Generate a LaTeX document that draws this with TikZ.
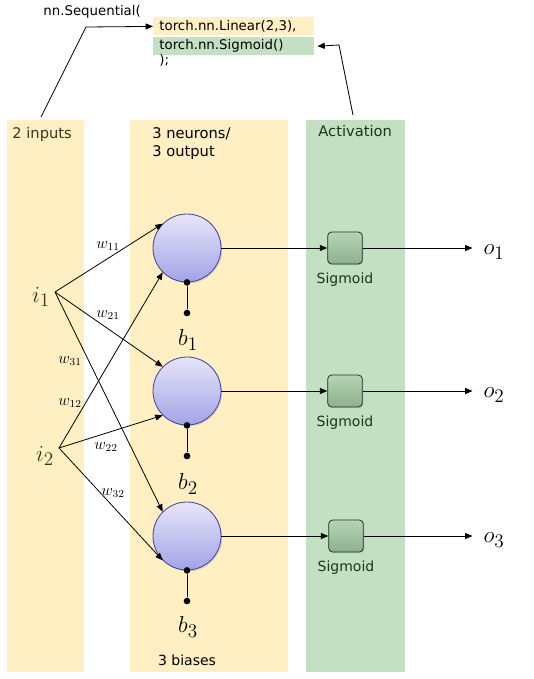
\documentclass[tikz,border=0pt]{standalone}
\usepackage{fontspec}
\setmainfont{DejaVu Sans}
\usepackage{tikz}
\usetikzlibrary{arrows.meta,positioning,shadows}
\definecolor{bandyellow}{HTML}{FFEFC2}
\definecolor{bandgreen}{HTML}{C3E0C3}
\definecolor{neuronedge}{HTML}{3D3DA6}
\definecolor{neurontop}{HTML}{E6E6F9}
\definecolor{neuronbot}{HTML}{A3A3E6}
\definecolor{sigedge}{HTML}{1C381C}
\definecolor{sigtop}{HTML}{B6D4B6}
\definecolor{sigbot}{HTML}{8DB08D}
\definecolor{darktext}{HTML}{3A3320}
\definecolor{greentext}{HTML}{1E331E}

\begin{document}
\begin{tikzpicture}[x=0.75pt, y=-0.75pt, line width=0.6pt,
	>={Triangle[length=5.5pt,width=4.5pt]},
	neuron/.style={circle, draw=neuronedge, top color=neurontop, bottom color=neuronbot,
		minimum size=51pt, inner sep=0pt,
		drop shadow={shadow xshift=1pt, shadow yshift=-1pt, opacity=.25}},
	sigbox/.style={rectangle, rounded corners=3pt, draw=sigedge, top color=sigtop, bottom color=sigbot,
		minimum width=26pt, minimum height=24pt, inner sep=0pt,
		drop shadow={shadow xshift=.8pt, shadow yshift=-.8pt, opacity=.25}},
	biasdot/.style={circle, fill=black, minimum size=5pt, inner sep=0pt},
	mathlbl/.style={font=\fontsize{19}{21}\selectfont, inner sep=1pt},
	wlbl/.style={font=\fontsize{12}{13}\selectfont, inner sep=0pt},
	header/.style={font=\fontsize{11}{13.5}\selectfont, anchor=base west, inner sep=0pt},
	siglbl/.style={font=\fontsize{10.5}{12}\selectfont, text=greentext, inner sep=0pt},
	code/.style={font=\fontsize{10}{12}\selectfont, inner sep=0pt},
	codeband/.style={code, rectangle, anchor=north west, minimum width=120.75pt, minimum height=13.5pt,
		text width=111.75pt, align=left, inner xsep=4.5pt, inner ysep=0pt}]
	\useasboundingbox (0,0) rectangle (533,679);
	\fill[bandyellow] (7,120) rectangle (84,672);
	\fill[bandyellow] (130,120) rectangle (288,672);
	\fill[bandgreen] (306,120) rectangle (405,672);

	\node[code, anchor=base west] (seq) at (43,15) {nn.Sequential(};
	\node[codeband, fill=bandyellow] (lin) at (153,17) {torch.nn.Linear(2,3),};
	\node[codeband, fill=bandgreen, below=0.75pt of lin] (sig) {torch.nn.Sigmoid()};
	\node[code, anchor=base west] (close) at (159,64) {);};

	\node[header, text=darktext] (hin) at (12,138) {2 inputs};
	\node[header] (hneu) at (152,138) {3 neurons/};
	\node[header] (hout) at (152,156) {3 output};
	\node[header, text=greentext] (hact) at (318,136) {Activation};
	\node[font=\fontsize{10.5}{12}\selectfont, inner sep=0pt] (hbias) at (187,660) {3 biases};

	\coordinate (linfoot) at (41,117);
	\coordinate (linknee) at (86,27);
	\coordinate (sigfoot) at (353,115);
	\coordinate (sigknee) at (339,45);
	\draw[->] (linfoot) -- (linknee) -- (lin.west);
	\draw[->] (sigfoot) -- (sigknee) -- ([xshift=2pt]sig.east);

	\node[neuron] (n1) at (187,248) {};
	\node[neuron] (n2) at (187,391) {};
	\node[neuron] (n3) at (187,536) {};

	\node[sigbox] (s1) at (345,248) {};
	\node[sigbox] (s2) at (345,391) {};
	\node[sigbox] (s3) at (346,536) {};
	\node[siglbl, below=6pt of s1] (sl1) {Sigmoid};
	\node[siglbl, below=6pt of s2] (sl2) {Sigmoid};
	\node[siglbl, below=6pt of s3] (sl3) {Sigmoid};

	\node[mathlbl] (o1) at (494,252) {$o_1$};
	\node[mathlbl] (o2) at (494,395) {$o_2$};
	\node[mathlbl] (o3) at (494,540) {$o_3$};

	\draw[->] (n1) -- (s1);
	\draw[->] (n2) -- (s2);
	\draw[->] (n3) -- (s3);
	\draw[->, shorten >=7pt] (s1) -- (s1 -| o1.west);
	\draw[->, shorten >=7pt] (s2) -- (s2 -| o2.west);
	\draw[->, shorten >=7pt] (s3) -- (s3 -| o3.west);

	\node[biasdot] (bt1) at (n1.south) {};
	\node[biasdot] (bt2) at (n2.south) {};
	\node[biasdot] (bt3) at (n3.south) {};
	\node[biasdot] (bd1) at (187,313) {};
	\node[biasdot] (bd2) at (187,456) {};
	\node[biasdot] (bd3) at (187,601) {};
	\draw (bt1) -- (bd1);
	\draw (bt2) -- (bd2);
	\draw (bt3) -- (bd3);
	\node[mathlbl] (b1) at (188,340) {$b_1$};
	\node[mathlbl] (b2) at (188,484) {$b_2$};
	\node[mathlbl] (b3) at (188,627) {$b_3$};

	\coordinate (i1) at (55,292);
	\coordinate (i2) at (59,448);
	\node[mathlbl, text=darktext] (i1lab) at (41,297) {$i_1$};
	\node[mathlbl, text=darktext] (i2lab) at (45,456) {$i_2$};
	\draw[->] (i1) -- (n1.135);
	\draw[->] (i1) -- (n2.135);
	\draw[->] (i1) -- (n3.135);
	\draw[->] (i2) -- (n1.225);
	\draw[->] (i2) -- (n2.225);
	\draw[->] (i2) -- (n3.225);

	\node[wlbl] (w11) at (108,246) {$w_{11}$};
	\node[wlbl] (w21) at (108,315) {$w_{21}$};
	\node[wlbl] (w31) at (70,361) {$w_{31}$};
	\node[wlbl] (w12) at (70,403) {$w_{12}$};
	\node[wlbl] (w22) at (106,447) {$w_{22}$};
	\node[wlbl] (w32) at (113,493) {$w_{32}$};
\end{tikzpicture}
\end{document}
